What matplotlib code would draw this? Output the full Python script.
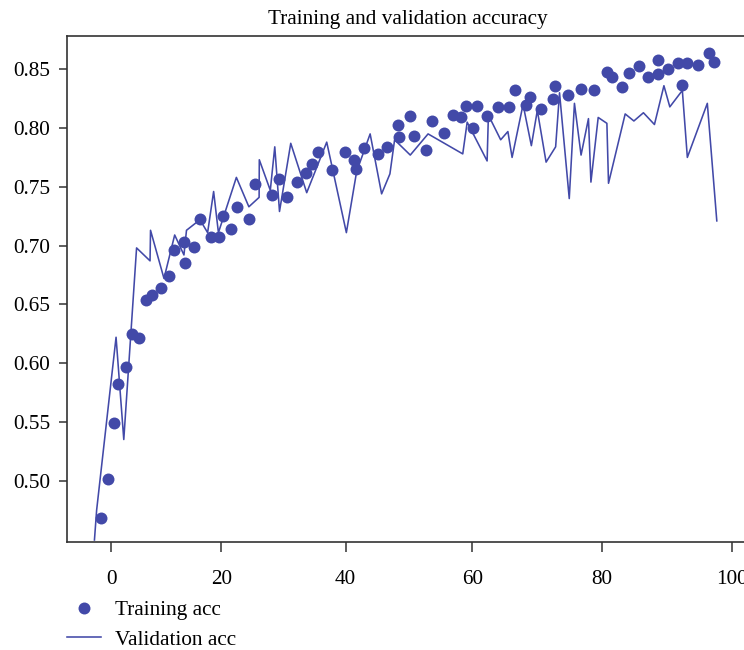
import numpy as np
import matplotlib
matplotlib.use("Agg")
import matplotlib.pyplot as plt

plt.rcParams['font.family'] = ['Liberation Serif', 'DejaVu Serif']

# ---- data ----
train_epoch = [-1.81, -0.60, 0.45, 1.32, 2.71, 3.75, 5.12, 6.33, 7.42, 9.05,
               10.55, 11.46, 13.21, 13.39, 15.08, 16.16, 18.10, 19.60, 20.19, 21.53,
               22.49, 24.37, 25.38, 28.11, 29.19, 30.52, 32.13, 33.65, 34.51, 35.53,
               37.86, 39.89, 41.37, 41.57, 42.88, 45.15, 46.50, 48.30, 48.35, 50.08,
               50.76, 52.72, 53.54, 55.46, 56.90, 58.24, 59.02, 60.15, 60.72, 62.31,
               64.00, 65.62, 66.62, 68.31, 68.82, 70.57, 72.42, 72.77, 74.69, 76.72,
               78.77, 80.72, 81.49, 83.03, 84.12, 85.66, 87.00, 88.66, 88.54, 90.20,
               91.74, 92.35, 93.03, 94.82, 96.51, 97.20]
train_acc = [0.468, 0.501, 0.549, 0.582, 0.597, 0.625, 0.621, 0.654, 0.658, 0.664,
             0.674, 0.696, 0.703, 0.685, 0.699, 0.723, 0.707, 0.707, 0.725, 0.714,
             0.733, 0.723, 0.752, 0.743, 0.757, 0.741, 0.754, 0.762, 0.769, 0.780,
             0.764, 0.780, 0.773, 0.765, 0.783, 0.778, 0.784, 0.803, 0.792, 0.810,
             0.793, 0.781, 0.806, 0.796, 0.811, 0.809, 0.819, 0.800, 0.819, 0.810,
             0.818, 0.818, 0.832, 0.820, 0.826, 0.816, 0.825, 0.836, 0.828, 0.833,
             0.832, 0.848, 0.843, 0.835, 0.847, 0.853, 0.843, 0.858, 0.846, 0.850,
             0.855, 0.837, 0.855, 0.854, 0.864, 0.856]

val_epoch = [-3.02, -2.62, 0.90, 2.30, 4.62, 7.06, 7.15, 9.59, 11.53, 13.21,
             13.67, 16.11, 17.50, 18.59, 19.46, 22.41, 24.42, 26.07, 26.10, 27.87,
             28.59, 29.35, 31.16, 33.73, 36.95, 40.11, 41.73, 43.86, 45.67, 46.98,
             47.72, 50.19, 53.00, 58.47, 59.17, 62.26, 62.46, 64.35, 65.46, 66.11,
             67.80, 69.08, 70.00, 71.35, 72.82, 73.42, 74.92, 75.72, 76.74, 77.88,
             78.26, 79.38, 80.72, 80.97, 83.54, 84.88, 86.35, 88.05, 89.51, 90.42,
             92.35, 93.12, 96.20, 97.66]
val_acc = [0.4495, 0.475, 0.622, 0.535, 0.698, 0.687, 0.713, 0.672, 0.709, 0.692,
           0.713, 0.722, 0.711, 0.746, 0.711, 0.758, 0.733, 0.741, 0.773, 0.747,
           0.784, 0.729, 0.787, 0.745, 0.788, 0.711, 0.763, 0.795, 0.744, 0.761,
           0.790, 0.777, 0.795, 0.778, 0.805, 0.772, 0.811, 0.790, 0.797, 0.775,
           0.820, 0.785, 0.815, 0.771, 0.784, 0.830, 0.740, 0.821, 0.777, 0.808,
           0.754, 0.809, 0.804, 0.753, 0.812, 0.806, 0.813, 0.803, 0.836, 0.818,
           0.832, 0.775, 0.821, 0.721]

x_ticks = [0, 20, 40, 60, 80, 100]
y_ticks = [0.50, 0.55, 0.60, 0.65, 0.70, 0.75, 0.80, 0.85]
title = "Training and validation accuracy"
labels = ["Training acc", "Validation acc"]

# ---- x scale calibration (the reference axis is slightly non-uniform) ----
_xd = np.array([0, 20, 40, 60, 80, 100], float)
_xp = np.array([110, 220.5, 345, 472, 602, 732], float)


def _pw(x, a, b):
    x = np.asarray(x, float)
    out = np.interp(x, a, b)
    out = np.where(x < a[0], b[0] + (x - a[0]) * (b[1] - b[0]) / (a[1] - a[0]), out)
    out = np.where(x > a[-1], b[-1] + (x - a[-1]) * (b[-1] - b[-2]) / (a[-1] - a[-2]), out)
    return out


def fwd(x):
    return _pw(x, _xd, _xp)


def inv(u):
    return _pw(u, _xp, _xd)


color = '#4249A8'
W, H = 744, 650
fig = plt.figure(figsize=(W / 100, H / 100), dpi=100)
ax = fig.add_axes([66.7 / W, (H - 542) / H, (749.5 - 66.7) / W, (542 - 36) / H])
ax.set_xscale('function', functions=(fwd, inv))

ax.plot(train_epoch, train_acc, 'o', color=color, markersize=8.6, label=labels[0],
        markeredgewidth=0)
ax.plot(val_epoch, val_acc, '-', color=color, linewidth=1.15, label=labels[1])

ax.set_xlim(-8.05, 102.7)
ax.set_ylim(0.4478, 0.8783)
ax.set_xticks(x_ticks)
ax.set_xticklabels([str(t) for t in x_ticks])
ax.set_yticks(y_ticks)
ax.set_yticklabels([f"{t:.2f}" for t in y_ticks])
ax.minorticks_off()
ax.tick_params(axis='both', labelsize=15.3, length=6, width=1.1, color='#333333', pad=6)
ax.tick_params(axis='x', length=7, pad=13)
for s in ax.spines.values():
    s.set_color('#333333')
    s.set_linewidth(1.2)

ax.set_title(title, fontsize=15.3, pad=8.5)

leg = fig.legend(loc='upper left', bbox_to_anchor=(58 / W, (H - 592) / H), frameon=False,
                 fontsize=15.3, handlelength=1.6, handletextpad=0.7, labelspacing=0.45,
                 borderaxespad=0)

fig.savefig('out.png', dpi=100)
